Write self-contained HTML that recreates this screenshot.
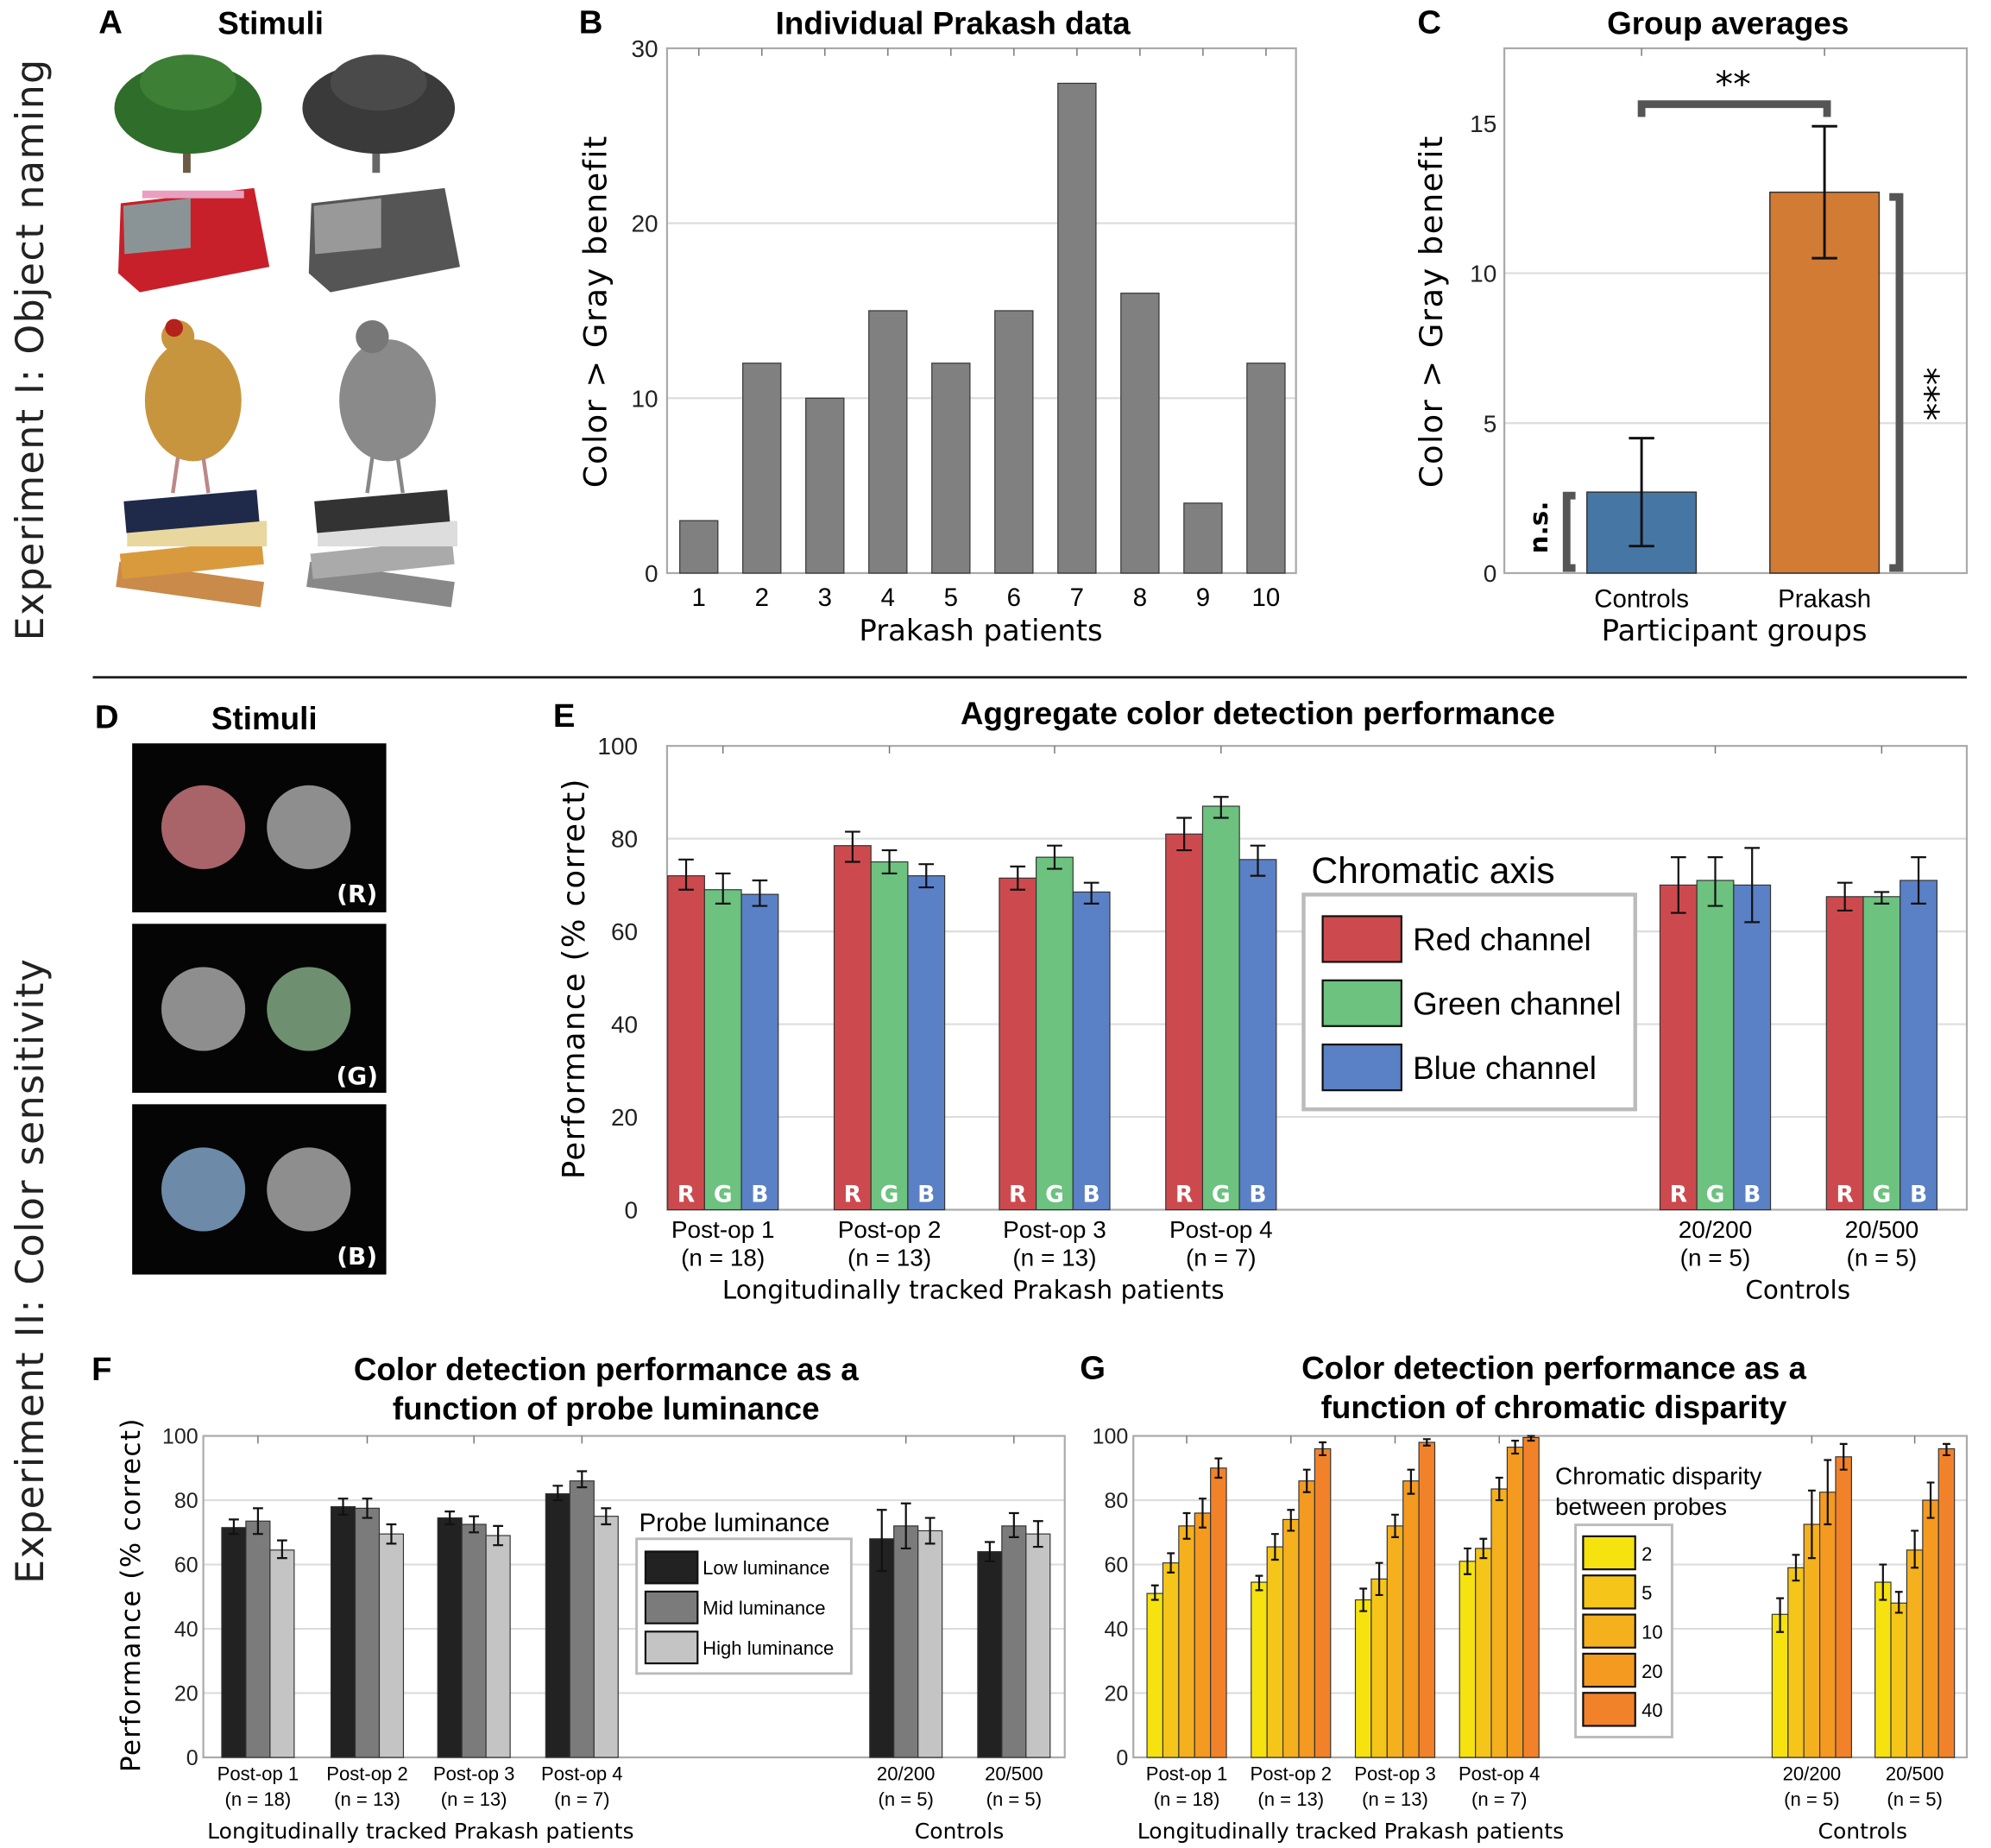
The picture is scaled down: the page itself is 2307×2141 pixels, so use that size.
<!DOCTYPE html>
<html><head><meta charset="utf-8"><style>
html,body{margin:0;padding:0;background:#fff}
svg{display:block}
.t{font-family:"Liberation Sans Narrow","Liberation Sans",sans-serif}
.w{font-family:"DejaVu Sans","Liberation Sans",sans-serif}
</style></head><body>
<svg id="fig" xmlns="http://www.w3.org/2000/svg" width="2307" height="2141" viewBox="0 0 1567 1454.3">
<!-- Panel A -->
<g>
<text x="87" y="26" class="t" font-size="26" font-weight="bold" text-anchor="middle">A</text>
<text x="213" y="27" class="t" font-size="25" font-weight="bold" text-anchor="middle">Stimuli</text>
<text transform="translate(34,275) rotate(-90)" class="w" font-size="30" text-anchor="middle" letter-spacing="1" fill="#222">Experiment I: Object naming</text>
<g><rect x="144" y="100" width="6" height="36" fill="#6b5a44"/><ellipse cx="148" cy="85" rx="58" ry="36" fill="#2f6d2a"/><ellipse cx="148" cy="65" rx="38" ry="22" fill="#3c7f35"/></g>
<g><rect x="293" y="100" width="6" height="36" fill="#666"/><ellipse cx="298" cy="85" rx="60" ry="36" fill="#3a3a3a"/><ellipse cx="298" cy="65" rx="38" ry="22" fill="#4a4a4a"/></g>
<g><path d="M95 160 L200 148 L212 210 L110 230 L93 215 Z" fill="#c8202a"/><path d="M97 162 L150 156 L150 195 L98 200 Z" fill="#8a9496"/><rect x="112" y="150" width="80" height="6" fill="#e9a0c0"/></g>
<g><path d="M245 160 L350 148 L362 210 L260 230 L243 215 Z" fill="#555"/><path d="M247 162 L300 156 L300 195 L248 200 Z" fill="#999"/></g>
<g><ellipse cx="152" cy="315" rx="38" ry="48" fill="#c8953f"/><circle cx="140" cy="265" r="13" fill="#c8953f"/><circle cx="137" cy="258" r="7" fill="#b3231b"/><path d="M140 360 L136 388 M160 360 L164 388" stroke="#b88" stroke-width="3"/></g>
<g><ellipse cx="305" cy="315" rx="38" ry="48" fill="#8a8a8a"/><circle cx="293" cy="265" r="13" fill="#777"/><path d="M293 360 L289 388 M313 360 L317 388" stroke="#888" stroke-width="3"/></g>
<g><rect x="92" y="450" width="115" height="20" fill="#c98a4a" transform="rotate(8 150 460)"/><rect x="95" y="430" width="112" height="20" fill="#d99a3e" transform="rotate(-6 150 440)"/><rect x="100" y="410" width="110" height="20" fill="#e9d7a0"/><rect x="98" y="390" width="105" height="25" fill="#1f2a4a" transform="rotate(-5 150 400)"/></g>
<g><rect x="242" y="450" width="115" height="20" fill="#888" transform="rotate(8 300 460)"/><rect x="245" y="430" width="112" height="20" fill="#aaa" transform="rotate(-6 300 440)"/><rect x="250" y="410" width="110" height="20" fill="#ddd"/><rect x="248" y="390" width="105" height="25" fill="#333" transform="rotate(-5 300 400)"/></g>
</g>
<line x1="73" y1="533" x2="1548" y2="533" stroke="#222" stroke-width="2"/>
<!-- Panel D -->
<g>
<text x="84" y="573" class="t" font-size="26" font-weight="bold" text-anchor="middle">D</text>
<text x="208" y="574" class="t" font-size="25" font-weight="bold" text-anchor="middle">Stimuli</text>
<text transform="translate(34,1000) rotate(-90)" class="w" font-size="30" text-anchor="middle" letter-spacing="1" fill="#222">Experiment II: Color sensitivity</text>
<rect x="104" y="585" width="200" height="133" fill="#050505"/>
<circle cx="160" cy="651" r="33" fill="#a86468"/><circle cx="243" cy="651" r="33" fill="#8e8e8e"/>
<text x="281" y="710" class="w" font-size="19" font-weight="bold" fill="#fff" text-anchor="middle">(R)</text>
<rect x="104" y="727" width="200" height="133" fill="#050505"/>
<circle cx="160" cy="794" r="33" fill="#8e8e8e"/><circle cx="243" cy="794" r="33" fill="#6f9070"/>
<text x="281" y="853" class="w" font-size="19" font-weight="bold" fill="#fff" text-anchor="middle">(G)</text>
<rect x="104" y="869" width="200" height="134" fill="#050505"/>
<circle cx="160" cy="936" r="33" fill="#6d8aa8"/><circle cx="243" cy="936" r="33" fill="#8e8e8e"/>
<text x="281" y="995" class="w" font-size="19" font-weight="bold" fill="#fff" text-anchor="middle">(B)</text>
</g>
<g id="charts"></g>
</svg>
<script>
// ---- Panel B data
const bCategories = ["1","2","3","4","5","6","7","8","9","10"];
const bValues = [3,12,10,15,12,15,28,16,4,12];
const bTicks = [0,10,20,30];
// ---- Panel C data
const cGroups = ["Controls","Prakash"];
const cValues = [2.7,12.7];
const cErrLo = [0.9,10.5];
const cErrHi = [4.5,14.9];
const cTicks = [0,5,10,15];
// ---- Panel E data
const eGroups = ["Post-op 1","Post-op 2","Post-op 3","Post-op 4","20/200","20/500"];
const eGroupN = ["(n = 18)","(n = 13)","(n = 13)","(n = 7)","(n = 5)","(n = 5)"];
const eSeries = ["Red channel","Green channel","Blue channel"];
const eRed = [72,78.5,71.5,81,70,67.5];
const eRedLo = [69,75,69,77.5,64,64.5];
const eRedHi = [75.5,81.5,74,84.5,76,70.5];
const eGreen = [69,75,76,87,71,67.5];
const eGreenLo = [66,72.5,73.5,84.5,65.5,66];
const eGreenHi = [72.5,77.5,78.5,89,76,68.5];
const eBlue = [68,72,68.5,75.5,70,71];
const eBlueLo = [65.5,69.5,66,72,62,66];
const eBlueHi = [71,74.5,70.5,78.5,78,76];
const eTicks = [0,20,40,60,80,100];
// ---- Panel F data
const fSeries = ["Low luminance","Mid luminance","High luminance"];
const fLow = [71.5,78,74.5,82,68,64];
const fLowLo = [69.5,75.5,72.5,80,58,61];
const fLowHi = [74,80.5,76.5,84.5,77,67];
const fMid = [73.5,77.5,72.5,86,72,72];
const fMidLo = [69.5,74.5,70,84,65,68.5];
const fMidHi = [77.5,80.5,75,89,79,76];
const fHigh = [64.5,69.5,69,75,70.5,69.5];
const fHighLo = [62,66.5,66,72.5,66.5,65.5];
const fHighHi = [67.5,72.5,72,77.5,74.5,73.5];
// ---- Panel G data
const gSeries = ["2","5","10","20","40"];
const gD2 = [51,54.5,49,61,44.5,54.5];
const gD2Lo = [49,52,45.5,57,39,49];
const gD2Hi = [53.5,56.5,52.5,65,49.5,60];
const gD5 = [60.5,65.5,55.5,65,59,48];
const gD5Lo = [57.5,61.5,50.5,62,55,45];
const gD5Hi = [63.5,69.5,60.5,68,63,51.5];
const gD10 = [72,74,72,83.5,72.5,64.5];
const gD10Lo = [68,70.5,68.5,80,62,59];
const gD10Hi = [76,77,75.5,87,83,70.5];
const gD20 = [76,86,86,96.5,82.5,80];
const gD20Lo = [71.5,82.5,82,94.5,72.5,74.5];
const gD20Hi = [80.5,89.5,89.5,98.5,92.5,85.5];
const gD40 = [90,96,98,99.5,93.5,96];
const gD40Lo = [87,94,97,98.5,89.5,94];
const gD40Hi = [93,98,99,100,97.5,97.5];

const NS = "http://www.w3.org/2000/svg";
const root = document.getElementById("charts");
function mk(tag, attrs, parent){const e=document.createElementNS(NS,tag);for(const k in attrs)e.setAttribute(k,attrs[k]);(parent||root).appendChild(e);return e;}
function txt(s, attrs, parent){const e=mk("text",attrs,parent);e.textContent=s;return e;}
function errbar(g,x,lo,hi,cap,sw){mk("path",{d:`M${x} ${lo}V${hi}M${x-cap} ${lo}H${x+cap}M${x-cap} ${hi}H${x+cap}`,stroke:"#111","stroke-width":sw,fill:"none"},g);}
function frame(g,x0,x1,yTop,yBot,ticks,yf,lblX,fs,grid){
  for(const t of ticks){const y=yf(t);
    if(grid && t>ticks[0] && t<ticks[ticks.length-1]) mk("line",{x1:x0,x2:x1,y1:y,y2:y,stroke:"#ddd","stroke-width":1.5},g);
    const tl=txt(String(t),{x:lblX,y:y+fs*0.36,"font-size":fs,"text-anchor":"end",class:"t",fill:"#222"},g);
    
    
  }
}
function box(g,x0,x1,yTop,yBot){
  const r=mk("rect",{x:x0,y:yTop,width:x1-x0,height:yBot-yTop,fill:"none",stroke:"#aaa","stroke-width":1.5},g);
  
  
}

// ===== Panel B
(function(){
  const g=mk("g",{});
  
  
  const yB=v=>451-v*(413/30); const xB=i=>550+i*49.6;
  txt("B",{x:465,y:26,"font-size":26,"font-weight":"bold",class:"t","text-anchor":"middle"},g);
  const ti=txt("Individual Prakash data",{x:750,y:27,"font-size":25,"font-weight":"bold",class:"t","text-anchor":"middle"},g);
  
  
  frame(g,525,1020,38,451,bTicks,yB,518,19,true);
  box(g,525,1020,38,451);
  bCategories.forEach((c,i)=>{
    const r=mk("rect",{x:xB(i)-15,y:yB(bValues[i]),width:30,height:yB(0)-yB(bValues[i]),fill:"#808080",stroke:"#333","stroke-width":0.8},g);
    
    
    mk("line",{x1:xB(i),x2:xB(i),y1:38,y2:44,stroke:"#777"},g);
    txt(c,{x:xB(i),y:477,"font-size":20,class:"t","text-anchor":"middle"},g);
  });
  const yl=txt("Color > Gray benefit",{transform:"translate(477,245) rotate(-90)","font-size":25,class:"w","text-anchor":"middle","letter-spacing":1},g);
  
  
  const xl=txt("Prakash patients",{x:772,y:504,"font-size":23,class:"w","text-anchor":"middle"},g);
  
  
})();

// ===== Panel C
(function(){
  const g=mk("g",{});
  
  
  const yC=v=>451-v*23.6; const xC=[1292,1436];
  txt("C",{x:1125,y:26,"font-size":26,"font-weight":"bold",class:"t","text-anchor":"middle"},g);
  const ti=txt("Group averages",{x:1360,y:27,"font-size":25,"font-weight":"bold",class:"t","text-anchor":"middle"},g);
  
  
  frame(g,1184,1548,38,451,cTicks,yC,1178,19,true);
  box(g,1184,1548,38,451);
  const cols=["#4677a4","#d17b35"];
  cGroups.forEach((c,i)=>{
    const r=mk("rect",{x:xC[i]-43,y:yC(cValues[i]),width:86,height:yC(0)-yC(cValues[i]),fill:cols[i],stroke:"#333","stroke-width":1},g);
    
    
    errbar(g,xC[i],yC(cErrLo[i]),yC(cErrHi[i]),10,2);
    mk("line",{x1:xC[i],x2:xC[i],y1:38,y2:44,stroke:"#777"},g);
    txt(c,{x:xC[i],y:478,"font-size":20,class:"t","text-anchor":"middle"},g);
  });
  mk("path",{d:"M1292 92V82H1438V92",stroke:"#555","stroke-width":6,fill:"none"},g);
  txt("**",{x:1364,y:76,"font-size":28,class:"w","text-anchor":"middle"},g);
  mk("path",{d:"M1487 155H1495V447H1487",stroke:"#555","stroke-width":6,fill:"none"},g);
  txt("***",{transform:"translate(1506,310) rotate(90)","font-size":28,class:"w","text-anchor":"middle"},g);
  mk("path",{d:"M1240 390H1233V447H1240",stroke:"#555","stroke-width":6,fill:"none"},g);
  txt("n.s.",{transform:"translate(1218,415) rotate(-90)","font-size":20,"font-weight":"bold",class:"w","text-anchor":"middle"},g);
  const yl=txt("Color > Gray benefit",{transform:"translate(1135,245) rotate(-90)","font-size":25,class:"w","text-anchor":"middle","letter-spacing":1},g);
  
  
  const xl=txt("Participant groups",{x:1365,y:504,"font-size":23,class:"w","text-anchor":"middle"},g);
  
  
})();

// generic grouped chart
function grouped(cfg){
  const g=mk("g",{});
  
  
  const y=v=>cfg.y0-v*(cfg.y0-cfg.y100)/100;
  frame(g,cfg.x0,cfg.x1,cfg.y100,cfg.y0,eTicks,y,cfg.tickX,cfg.tickFs,true);
  box(g,cfg.x0,cfg.x1,cfg.y100,cfg.y0);
  const ns=cfg.vals.length;
  cfg.centers.forEach((cx,gi)=>{
    mk("line",{x1:cx,x2:cx,y1:cfg.y100,y2:cfg.y100+6,stroke:"#777"},g);
    for(let s=0;s<ns;s++){
      const bx=cx+(s-(ns-1)/2)*cfg.bw;
      const v=cfg.vals[s][gi];
      const r=mk("rect",{x:bx-cfg.bw/2,y:y(v),width:cfg.bw,height:y(0)-y(v),fill:cfg.cols[s],stroke:"#333","stroke-width":0.8},g);
      
      
      errbar(g,bx,y(cfg.lo[s][gi]),y(cfg.hi[s][gi]),cfg.cap,1.5);
      if(cfg.letters) txt(cfg.letters[s],{x:bx,y:cfg.y0-6,"font-size":18,"font-weight":"bold",fill:"#fff",class:"w","text-anchor":"middle"},g);
    }
    const l1=txt(eGroups[gi],{x:cx,y:cfg.lab1,"font-size":cfg.labFs,class:"t","text-anchor":"middle"},g);
    
    
    txt(eGroupN[gi],{x:cx,y:cfg.lab2,"font-size":cfg.labFs,class:"t","text-anchor":"middle"},g);
  });
  const a=txt("Longitudinally tracked Prakash patients",{x:cfg.grpX[0],y:cfg.grpY,"font-size":cfg.grpFs,class:"w","text-anchor":"middle"},g);
  
  
  const b=txt("Controls",{x:cfg.grpX[1],y:cfg.grpY,"font-size":cfg.grpFs,class:"w","text-anchor":"middle"},g);
  
  
  return g;
}

// ===== Panel E
(function(){
  const g=grouped({name:"panel-e",x0:525,x1:1548,y100:587,y0:952,tickX:502,tickFs:19,
    centers:[569,700,830,961,1350,1481],bw:29,cap:6,
    vals:[eRed,eGreen,eBlue],lo:[eRedLo,eGreenLo,eBlueLo],hi:[eRedHi,eGreenHi,eBlueHi],
    cols:["#cc4a4e","#6cc27e","#5a80c6"],seriesKeys:["red","green","blue"],letters:["R","G","B"],
    lab1:974,lab2:996,labFs:19,grpX:[766,1415],grpY:1022,grpFs:20});
  txt("E",{x:444,y:572,"font-size":26,"font-weight":"bold",class:"t","text-anchor":"middle"},g);
  const ti=txt("Aggregate color detection performance",{x:990,y:570,"font-size":25,"font-weight":"bold",class:"t","text-anchor":"middle"},g);
  
  
  const yl=txt("Performance (% correct)",{transform:"translate(460,770) rotate(-90)","font-size":24,class:"w","text-anchor":"middle","letter-spacing":1},g);
  
  
  txt("Chromatic axis",{x:1032,y:695,"font-size":29,class:"t"},g);
  const lg=mk("rect",{x:1026,y:704,width:261,height:169,fill:"#fff",stroke:"#bbb","stroke-width":3},g);
  
  
  const cols=["#cc4a4e","#6cc27e","#5a80c6"];
  eSeries.forEach((s,i)=>{
    const r=mk("rect",{x:1041,y:721+i*50.5,width:62,height:36,fill:cols[i],stroke:"#111","stroke-width":1.5},g);
    
    
    const t=txt(s,{x:1112,y:748+i*50.5,"font-size":25,class:"t"},g);
    
    
  });
})();

// ===== Panel F
(function(){
  const g=grouped({name:"panel-f",x0:160,x1:838,y100:1130,y0:1383,tickX:156,tickFs:17,
    centers:[203,289,373,458,713,798],bw:19,cap:4,
    vals:[fLow,fMid,fHigh],lo:[fLowLo,fMidLo,fHighLo],hi:[fLowHi,fMidHi,fHighHi],
    cols:["#222222","#7b7b7b","#c4c4c4"],seriesKeys:["low","mid","high"],letters:null,
    lab1:1401,lab2:1421,labFs:15,grpX:[331,755],grpY:1447,grpFs:17});
  txt("F",{x:80,y:1086,"font-size":26,"font-weight":"bold",class:"t","text-anchor":"middle"},g);
  const ti=txt("Color detection performance as a",{x:477,y:1086,"font-size":25,"font-weight":"bold",class:"t","text-anchor":"middle"},g);
  
  
  txt("function of probe luminance",{x:477,y:1117,"font-size":25,"font-weight":"bold",class:"t","text-anchor":"middle"},g);
  const yl=txt("Performance (% correct)",{transform:"translate(110,1255) rotate(-90)","font-size":21,class:"w","text-anchor":"middle","letter-spacing":1},g);
  
  
  txt("Probe luminance",{x:503,y:1205,"font-size":20,class:"t"},g);
  const lg=mk("rect",{x:501,y:1211,width:169,height:106,fill:"#fff",stroke:"#bbb","stroke-width":2},g);
  
  
  const cols=["#222222","#7b7b7b","#c4c4c4"];
  fSeries.forEach((s,i)=>{
    const r=mk("rect",{x:508,y:1221+i*31.5,width:41,height:25,fill:cols[i],stroke:"#111","stroke-width":1.5},g);
    
    
    const t=txt(s,{x:553,y:1239+i*31.5,"font-size":15,class:"t"},g);
    
    
  });
})();

// ===== Panel G
(function(){
  const g=grouped({name:"panel-g",x0:892,x1:1548,y100:1130,y0:1383,tickX:888,tickFs:17,
    centers:[934,1016,1098,1180,1426,1507],bw:12.5,cap:3,
    vals:[gD2,gD5,gD10,gD20,gD40],lo:[gD2Lo,gD5Lo,gD10Lo,gD20Lo,gD40Lo],hi:[gD2Hi,gD5Hi,gD10Hi,gD20Hi,gD40Hi],
    cols:["#f6e20e","#f5c519","#f5b01d","#f49a20","#f2822a"],seriesKeys:["d2","d5","d10","d20","d40"],letters:null,
    lab1:1401,lab2:1421,labFs:15,grpX:[1063,1466],grpY:1447,grpFs:17});
  txt("G",{x:860,y:1085,"font-size":26,"font-weight":"bold",class:"t","text-anchor":"middle"},g);
  const ti=txt("Color detection performance as a",{x:1223,y:1085,"font-size":25,"font-weight":"bold",class:"t","text-anchor":"middle"},g);
  
  
  txt("function of chromatic disparity",{x:1223,y:1116,"font-size":25,"font-weight":"bold",class:"t","text-anchor":"middle"},g);
  txt("Chromatic disparity",{x:1224,y:1168,"font-size":19,class:"t"},g);
  txt("between probes",{x:1224,y:1192,"font-size":19,class:"t"},g);
  const lg=mk("rect",{x:1240,y:1200,width:76,height:167,fill:"#fff",stroke:"#bbb","stroke-width":2},g);
  
  
  const cols=["#f6e20e","#f5c519","#f5b01d","#f49a20","#f2822a"];
  gSeries.forEach((s,i)=>{
    const r=mk("rect",{x:1246,y:1209+i*30.8,width:41,height:26,fill:cols[i],stroke:"#111","stroke-width":1.5},g);
    
    
    const t=txt(s,{x:1292,y:1228+i*30.8,"font-size":15,class:"t"},g);
    
    
  });
})();
</script>
</body></html>
